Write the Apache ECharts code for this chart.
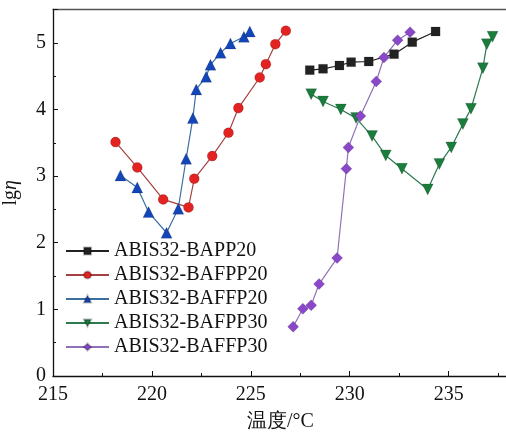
<!DOCTYPE html>
<html>
<head>
<meta charset="utf-8">
<script src="https://cdn.jsdelivr.net/npm/echarts@6/dist/echarts.min.js"></script>
<style>
  html, body { margin: 0; padding: 0; background: #fff; }
  #chart { width: 506px; height: 432px; }
</style>
</head>
<body>
<div id="chart"></div>
<script>
// Viscosity (lg η) vs. temperature for five ABIS32 blends
const seriesNames = ['ABIS32-BAPP20', 'ABIS32-BAFPP20', 'ABIS32-BAFFP20', 'ABIS32-BAFPP30', 'ABIS32-BAFFP30'];

const bapp20 = [
  [227.98, 4.59], [228.65, 4.61], [229.48, 4.66], [230.07, 4.71],
  [230.96, 4.72], [232.24, 4.83], [233.16, 5.01], [234.34, 5.17]
];
const bafpp20 = [
  [218.16, 3.51], [219.26, 3.13], [220.57, 2.65], [221.85, 2.53],
  [222.14, 2.96], [223.05, 3.30], [223.87, 3.65], [224.37, 4.02],
  [225.45, 4.48], [225.76, 4.68], [226.24, 4.98], [226.77, 5.18]
];
const baffp20 = [
  [218.41, 3.01], [219.26, 2.83], [219.83, 2.46], [220.74, 2.15],
  [221.33, 2.51], [221.73, 3.26], [222.07, 3.87], [222.24, 4.30],
  [222.74, 4.49], [222.96, 4.67], [223.47, 4.85], [223.97, 4.99],
  [224.65, 5.09], [224.95, 5.17]
];
const bafpp30 = [
  [228.05, 4.23], [228.65, 4.12], [229.55, 4.00], [230.32, 3.87],
  [231.13, 3.60], [231.82, 3.31], [232.64, 3.11], [233.94, 2.80],
  [234.53, 3.18], [235.13, 3.43], [235.72, 3.78], [236.13, 4.01],
  [236.73, 4.62], [236.93, 4.98], [237.22, 5.09]
];
const baffp30 = [
  [227.14, 0.74], [227.63, 1.01], [228.05, 1.06], [228.45, 1.38],
  [229.36, 1.77], [229.83, 3.11], [229.93, 3.43], [230.54, 3.90],
  [231.34, 4.42], [231.73, 4.78], [232.42, 5.04], [233.05, 5.16]
];

const xTicks = [215, 220, 225, 230, 235];
const yTicks = [0, 1, 2, 3, 4, 5];

const FONT = '"Liberation Serif", "Times New Roman", serif';

function makeSeries(name, data, symbol, size, fill, lineColor) {
  return {
    name: name,
    type: 'line',
    data: data,
    symbol: symbol,
    symbolSize: size,
    itemStyle: { color: fill, borderColor: 'rgba(0,0,0,0.25)', borderWidth: 0.6 },
    lineStyle: { color: lineColor, width: 1.2 },
    emphasis: { disabled: true },
    z: 3
  };
}

const chart = echarts.init(document.getElementById('chart'), null, { renderer: 'canvas' });

chart.setOption({
  animation: false,
  backgroundColor: '#fff',
  grid: { left: 53, top: 9.5, right: -2, bottom: 56, outerBoundsMode: 'none', containLabel: false },
  legend: {
    left: 60,
    top: 236,
    orient: 'vertical',
    itemWidth: 43,
    itemHeight: 9,
    itemGap: 4,
    data: seriesNames,
    textStyle: { fontFamily: FONT, fontSize: 20, color: '#111', lineHeight: 20 }
  },
  xAxis: [{
    type: 'value',
    min: 215,
    max: 238,
    interval: 5,
    name: '温度/°C',
    nameLocation: 'middle',
    nameGap: 36,
    nameTextStyle: { fontFamily: FONT, fontSize: 20, color: '#111' },
    axisLine: { lineStyle: { color: '#111', width: 1.3 } },
    axisTick: { inside: true, length: 5, lineStyle: { color: '#111' } },
    minorTick: { show: true, splitNumber: 2, length: 3, lineStyle: { color: '#111' } },
    splitLine: { show: false },
    axisLabel: {
      fontFamily: FONT, fontSize: 20, color: '#111', margin: 9,
      formatter: v => (xTicks.indexOf(v) >= 0 ? String(v) : '')
    }
  }, {
    type: 'value',
    position: 'top',
    min: 215,
    max: 238,
    axisLine: { show: true, onZero: false, lineStyle: { color: '#555', width: 1.3 } },
    axisTick: { show: false },
    axisLabel: { show: false },
    splitLine: { show: false }
  }],
  yAxis: {
    type: 'value',
    min: 0,
    max: 5.5,
    interval: 1,
    name: 'lg{i|η}',
    nameLocation: 'middle',
    nameGap: 32,
    nameRotate: 90,
    nameTextStyle: {
      fontFamily: FONT, fontSize: 20, color: '#111',
      rich: { i: { fontFamily: FONT, fontSize: 20, fontStyle: 'italic', color: '#111' } }
    },
    axisLine: { show: true, lineStyle: { color: '#111', width: 1.3 } },
    axisTick: { inside: true, length: 5, lineStyle: { color: '#111' } },
    minorTick: { show: true, splitNumber: 2, length: 3, lineStyle: { color: '#111' } },
    splitLine: { show: false },
    axisLabel: {
      fontFamily: FONT, fontSize: 20, color: '#111', margin: 7,
      formatter: v => (yTicks.indexOf(v) >= 0 ? String(v) : '')
    }
  },
  series: [
    makeSeries(seriesNames[0], bapp20, 'rect', 9, '#222222', '#222222'),
    makeSeries(seriesNames[1], bafpp20, 'circle', 10, '#e32222', '#a64040'),
    makeSeries(seriesNames[2], baffp20, 'triangle', 11, '#1346b8', '#3a6fa0'),
    Object.assign(makeSeries(seriesNames[3], bafpp30, 'triangle', 11, '#1a7d3c', '#2e7a50'), { symbolRotate: 180 }),
    makeSeries(seriesNames[4], baffp30, 'diamond', 11, '#8a48c8', '#9070b8')
  ]
});
</script>
</body>
</html>
